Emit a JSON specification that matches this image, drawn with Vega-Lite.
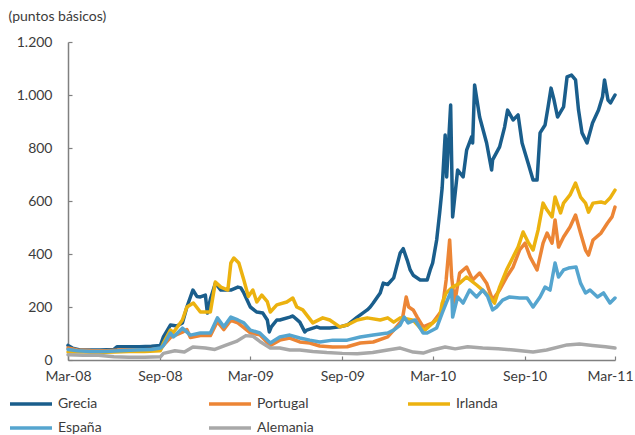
{
"$schema": "https://vega.github.io/schema/vega-lite/v6.json",
"width": 547, "height": 318,
"autosize": {"type": "none"},
"padding": {"left": 68, "top": 42, "right": 20, "bottom": 75},
"background": "white",
"config": {"view": {"stroke": null}, "font": "Lato"},
"datasets": {
"s": [
{"d":"2008-03-01","s":"Grecia","v":55},{"d":"2008-03-10","s":"Grecia","v":45},{"d":"2008-03-25","s":"Grecia","v":38},{"d":"2008-04-15","s":"Grecia","v":38},{"d":"2008-05-04","s":"Grecia","v":38},{"d":"2008-06-01","s":"Grecia","v":40},{"d":"2008-06-07","s":"Grecia","v":50},{"d":"2008-07-01","s":"Grecia","v":50},{"d":"2008-07-22","s":"Grecia","v":50},{"d":"2008-08-15","s":"Grecia","v":52},{"d":"2008-09-02","s":"Grecia","v":55},{"d":"2008-09-08","s":"Grecia","v":87},{"d":"2008-09-22","s":"Grecia","v":132},{"d":"2008-10-05","s":"Grecia","v":128},{"d":"2008-10-16","s":"Grecia","v":140},{"d":"2008-10-25","s":"Grecia","v":200},{"d":"2008-11-06","s":"Grecia","v":264},{"d":"2008-11-14","s":"Grecia","v":240},{"d":"2008-11-21","s":"Grecia","v":238},{"d":"2008-12-01","s":"Grecia","v":245},{"d":"2008-12-05","s":"Grecia","v":177},{"d":"2008-12-11","s":"Grecia","v":230},{"d":"2008-12-21","s":"Grecia","v":290},{"d":"2009-01-01","s":"Grecia","v":264},{"d":"2009-01-21","s":"Grecia","v":264},{"d":"2009-02-04","s":"Grecia","v":275},{"d":"2009-02-10","s":"Grecia","v":272},{"d":"2009-02-16","s":"Grecia","v":253},{"d":"2009-03-01","s":"Grecia","v":200},{"d":"2009-03-14","s":"Grecia","v":181},{"d":"2009-03-26","s":"Grecia","v":177},{"d":"2009-04-04","s":"Grecia","v":151},{"d":"2009-04-08","s":"Grecia","v":106},{"d":"2009-04-12","s":"Grecia","v":125},{"d":"2009-04-23","s":"Grecia","v":151},{"d":"2009-04-29","s":"Grecia","v":151},{"d":"2009-05-19","s":"Grecia","v":162},{"d":"2009-05-25","s":"Grecia","v":166},{"d":"2009-06-08","s":"Grecia","v":143},{"d":"2009-06-18","s":"Grecia","v":106},{"d":"2009-06-22","s":"Grecia","v":113},{"d":"2009-07-12","s":"Grecia","v":125},{"d":"2009-07-18","s":"Grecia","v":121},{"d":"2009-08-07","s":"Grecia","v":121},{"d":"2009-08-27","s":"Grecia","v":125},{"d":"2009-09-11","s":"Grecia","v":132},{"d":"2009-10-01","s":"Grecia","v":162},{"d":"2009-10-21","s":"Grecia","v":189},{"d":"2009-10-27","s":"Grecia","v":200},{"d":"2009-11-02","s":"Grecia","v":215},{"d":"2009-11-16","s":"Grecia","v":253},{"d":"2009-11-22","s":"Grecia","v":290},{"d":"2009-12-01","s":"Grecia","v":285},{"d":"2009-12-13","s":"Grecia","v":310},{"d":"2009-12-26","s":"Grecia","v":404},{"d":"2010-01-01","s":"Grecia","v":420},{"d":"2010-01-09","s":"Grecia","v":377},{"d":"2010-01-15","s":"Grecia","v":340},{"d":"2010-01-21","s":"Grecia","v":320},{"d":"2010-02-04","s":"Grecia","v":302},{"d":"2010-02-18","s":"Grecia","v":302},{"d":"2010-02-24","s":"Grecia","v":340},{"d":"2010-03-01","s":"Grecia","v":366},{"d":"2010-03-09","s":"Grecia","v":453},{"d":"2010-03-15","s":"Grecia","v":555},{"d":"2010-03-20","s":"Grecia","v":650},{"d":"2010-03-26","s":"Grecia","v":849},{"d":"2010-03-29","s":"Grecia","v":691},{"d":"2010-04-06","s":"Grecia","v":962},{"d":"2010-04-10","s":"Grecia","v":540},{"d":"2010-04-20","s":"Grecia","v":717},{"d":"2010-05-01","s":"Grecia","v":691},{"d":"2010-05-08","s":"Grecia","v":792},{"d":"2010-05-18","s":"Grecia","v":842},{"d":"2010-05-20","s":"Grecia","v":819},{"d":"2010-05-24","s":"Grecia","v":1038},{"d":"2010-06-03","s":"Grecia","v":917},{"d":"2010-06-17","s":"Grecia","v":819},{"d":"2010-06-27","s":"Grecia","v":717},{"d":"2010-06-29","s":"Grecia","v":755},{"d":"2010-07-13","s":"Grecia","v":804},{"d":"2010-07-23","s":"Grecia","v":879},{"d":"2010-07-29","s":"Grecia","v":943},{"d":"2010-08-09","s":"Grecia","v":906},{"d":"2010-08-19","s":"Grecia","v":925},{"d":"2010-08-27","s":"Grecia","v":819},{"d":"2010-09-08","s":"Grecia","v":743},{"d":"2010-09-18","s":"Grecia","v":679},{"d":"2010-09-26","s":"Grecia","v":679},{"d":"2010-10-02","s":"Grecia","v":857},{"d":"2010-10-12","s":"Grecia","v":887},{"d":"2010-10-18","s":"Grecia","v":955},{"d":"2010-10-24","s":"Grecia","v":1026},{"d":"2010-10-30","s":"Grecia","v":981},{"d":"2010-11-06","s":"Grecia","v":917},{"d":"2010-11-18","s":"Grecia","v":955},{"d":"2010-11-25","s":"Grecia","v":1068},{"d":"2010-12-04","s":"Grecia","v":1075},{"d":"2010-12-12","s":"Grecia","v":1057},{"d":"2010-12-18","s":"Grecia","v":943},{"d":"2010-12-25","s":"Grecia","v":857},{"d":"2011-01-04","s":"Grecia","v":819},{"d":"2011-01-15","s":"Grecia","v":894},{"d":"2011-01-27","s":"Grecia","v":943},{"d":"2011-02-04","s":"Grecia","v":993},{"d":"2011-02-08","s":"Grecia","v":1057},{"d":"2011-02-15","s":"Grecia","v":981},{"d":"2011-02-20","s":"Grecia","v":970},{"d":"2011-03-01","s":"Grecia","v":1000},

{"d":"2008-03-01","s":"Portugal","v":45},{"d":"2008-03-20","s":"Portugal","v":38},{"d":"2008-04-15","s":"Portugal","v":36},{"d":"2008-05-15","s":"Portugal","v":35},{"d":"2008-06-15","s":"Portugal","v":38},{"d":"2008-07-15","s":"Portugal","v":38},{"d":"2008-08-15","s":"Portugal","v":40},{"d":"2008-09-02","s":"Portugal","v":40},{"d":"2008-09-08","s":"Portugal","v":55},{"d":"2008-09-22","s":"Portugal","v":85},{"d":"2008-10-16","s":"Portugal","v":105},{"d":"2008-10-25","s":"Portugal","v":115},{"d":"2008-11-01","s":"Portugal","v":85},{"d":"2008-11-21","s":"Portugal","v":92},{"d":"2008-12-11","s":"Portugal","v":92},{"d":"2008-12-25","s":"Portugal","v":145},{"d":"2009-01-07","s":"Portugal","v":115},{"d":"2009-01-21","s":"Portugal","v":150},{"d":"2009-02-04","s":"Portugal","v":140},{"d":"2009-02-16","s":"Portugal","v":122},{"d":"2009-03-01","s":"Portugal","v":102},{"d":"2009-03-20","s":"Portugal","v":95},{"d":"2009-04-10","s":"Portugal","v":55},{"d":"2009-04-29","s":"Portugal","v":75},{"d":"2009-05-19","s":"Portugal","v":83},{"d":"2009-06-08","s":"Portugal","v":68},{"d":"2009-06-28","s":"Portugal","v":64},{"d":"2009-07-18","s":"Portugal","v":53},{"d":"2009-08-13","s":"Portugal","v":49},{"d":"2009-09-11","s":"Portugal","v":50},{"d":"2009-10-07","s":"Portugal","v":64},{"d":"2009-11-02","s":"Portugal","v":68},{"d":"2009-12-01","s":"Portugal","v":87},{"d":"2009-12-13","s":"Portugal","v":113},{"d":"2009-12-30","s":"Portugal","v":151},{"d":"2010-01-07","s":"Portugal","v":238},{"d":"2010-01-12","s":"Portugal","v":200},{"d":"2010-01-21","s":"Portugal","v":189},{"d":"2010-01-29","s":"Portugal","v":162},{"d":"2010-02-10","s":"Portugal","v":125},{"d":"2010-03-01","s":"Portugal","v":140},{"d":"2010-03-20","s":"Portugal","v":189},{"d":"2010-03-28","s":"Portugal","v":302},{"d":"2010-04-04","s":"Portugal","v":453},{"d":"2010-04-08","s":"Portugal","v":313},{"d":"2010-04-14","s":"Portugal","v":215},{"d":"2010-04-24","s":"Portugal","v":328},{"d":"2010-05-08","s":"Portugal","v":351},{"d":"2010-05-20","s":"Portugal","v":302},{"d":"2010-06-03","s":"Portugal","v":328},{"d":"2010-06-17","s":"Portugal","v":290},{"d":"2010-06-29","s":"Portugal","v":226},{"d":"2010-07-13","s":"Portugal","v":264},{"d":"2010-07-27","s":"Portugal","v":313},{"d":"2010-08-09","s":"Portugal","v":351},{"d":"2010-08-22","s":"Portugal","v":415},{"d":"2010-09-02","s":"Portugal","v":441},{"d":"2010-09-12","s":"Portugal","v":389},{"d":"2010-09-26","s":"Portugal","v":340},{"d":"2010-10-08","s":"Portugal","v":441},{"d":"2010-10-16","s":"Portugal","v":479},{"d":"2010-10-26","s":"Portugal","v":441},{"d":"2010-11-01","s":"Portugal","v":528},{"d":"2010-11-08","s":"Portugal","v":426},{"d":"2010-11-18","s":"Portugal","v":464},{"d":"2010-12-01","s":"Portugal","v":502},{"d":"2010-12-12","s":"Portugal","v":547},{"d":"2010-12-22","s":"Portugal","v":479},{"d":"2011-01-01","s":"Portugal","v":415},{"d":"2011-01-07","s":"Portugal","v":396},{"d":"2011-01-16","s":"Portugal","v":453},{"d":"2011-02-01","s":"Portugal","v":479},{"d":"2011-02-14","s":"Portugal","v":517},{"d":"2011-02-23","s":"Portugal","v":540},{"d":"2011-03-01","s":"Portugal","v":577},

{"d":"2008-03-01","s":"Irlanda","v":30},{"d":"2008-04-01","s":"Irlanda","v":30},{"d":"2008-05-01","s":"Irlanda","v":28},{"d":"2008-06-01","s":"Irlanda","v":30},{"d":"2008-07-01","s":"Irlanda","v":32},{"d":"2008-08-01","s":"Irlanda","v":32},{"d":"2008-09-02","s":"Irlanda","v":35},{"d":"2008-09-08","s":"Irlanda","v":64},{"d":"2008-09-22","s":"Irlanda","v":113},{"d":"2008-09-28","s":"Irlanda","v":104},{"d":"2008-10-16","s":"Irlanda","v":151},{"d":"2008-10-25","s":"Irlanda","v":200},{"d":"2008-11-07","s":"Irlanda","v":215},{"d":"2008-11-21","s":"Irlanda","v":181},{"d":"2008-12-11","s":"Irlanda","v":181},{"d":"2008-12-21","s":"Irlanda","v":294},{"d":"2009-01-01","s":"Irlanda","v":275},{"d":"2009-01-15","s":"Irlanda","v":264},{"d":"2009-01-21","s":"Irlanda","v":366},{"d":"2009-01-27","s":"Irlanda","v":385},{"d":"2009-02-06","s":"Irlanda","v":366},{"d":"2009-02-16","s":"Irlanda","v":302},{"d":"2009-02-25","s":"Irlanda","v":240},{"d":"2009-03-06","s":"Irlanda","v":264},{"d":"2009-03-14","s":"Irlanda","v":219},{"d":"2009-03-24","s":"Irlanda","v":245},{"d":"2009-04-04","s":"Irlanda","v":220},{"d":"2009-04-10","s":"Irlanda","v":181},{"d":"2009-04-23","s":"Irlanda","v":208},{"d":"2009-05-13","s":"Irlanda","v":219},{"d":"2009-05-25","s":"Irlanda","v":234},{"d":"2009-06-02","s":"Irlanda","v":200},{"d":"2009-06-14","s":"Irlanda","v":189},{"d":"2009-07-04","s":"Irlanda","v":140},{"d":"2009-07-24","s":"Irlanda","v":159},{"d":"2009-08-07","s":"Irlanda","v":151},{"d":"2009-08-27","s":"Irlanda","v":125},{"d":"2009-09-11","s":"Irlanda","v":132},{"d":"2009-10-01","s":"Irlanda","v":151},{"d":"2009-10-21","s":"Irlanda","v":159},{"d":"2009-11-16","s":"Irlanda","v":151},{"d":"2009-12-01","s":"Irlanda","v":159},{"d":"2009-12-13","s":"Irlanda","v":143},{"d":"2009-12-26","s":"Irlanda","v":159},{"d":"2010-01-09","s":"Irlanda","v":155},{"d":"2010-01-21","s":"Irlanda","v":150},{"d":"2010-02-04","s":"Irlanda","v":121},{"d":"2010-02-14","s":"Irlanda","v":113},{"d":"2010-03-01","s":"Irlanda","v":140},{"d":"2010-03-15","s":"Irlanda","v":162},{"d":"2010-03-20","s":"Irlanda","v":215},{"d":"2010-03-28","s":"Irlanda","v":253},{"d":"2010-04-10","s":"Irlanda","v":275},{"d":"2010-04-24","s":"Irlanda","v":290},{"d":"2010-05-08","s":"Irlanda","v":313},{"d":"2010-05-28","s":"Irlanda","v":283},{"d":"2010-06-09","s":"Irlanda","v":264},{"d":"2010-06-23","s":"Irlanda","v":238},{"d":"2010-07-03","s":"Irlanda","v":215},{"d":"2010-07-13","s":"Irlanda","v":275},{"d":"2010-07-27","s":"Irlanda","v":340},{"d":"2010-08-09","s":"Irlanda","v":389},{"d":"2010-08-19","s":"Irlanda","v":426},{"d":"2010-08-29","s":"Irlanda","v":483},{"d":"2010-09-08","s":"Irlanda","v":445},{"d":"2010-09-18","s":"Irlanda","v":415},{"d":"2010-09-28","s":"Irlanda","v":490},{"d":"2010-10-08","s":"Irlanda","v":592},{"d":"2010-10-16","s":"Irlanda","v":566},{"d":"2010-10-26","s":"Irlanda","v":540},{"d":"2010-11-01","s":"Irlanda","v":615},{"d":"2010-11-12","s":"Irlanda","v":555},{"d":"2010-11-18","s":"Irlanda","v":592},{"d":"2010-12-01","s":"Irlanda","v":623},{"d":"2010-12-12","s":"Irlanda","v":668},{"d":"2010-12-22","s":"Irlanda","v":615},{"d":"2011-01-01","s":"Irlanda","v":592},{"d":"2011-01-07","s":"Irlanda","v":558},{"d":"2011-01-16","s":"Irlanda","v":592},{"d":"2011-02-01","s":"Irlanda","v":596},{"d":"2011-02-09","s":"Irlanda","v":592},{"d":"2011-02-19","s":"Irlanda","v":611},{"d":"2011-03-01","s":"Irlanda","v":641},

{"d":"2008-03-01","s":"España","v":40},{"d":"2008-03-20","s":"España","v":35},{"d":"2008-04-15","s":"España","v":32},{"d":"2008-05-15","s":"España","v":32},{"d":"2008-06-15","s":"España","v":35},{"d":"2008-07-15","s":"España","v":38},{"d":"2008-08-15","s":"España","v":40},{"d":"2008-09-02","s":"España","v":45},{"d":"2008-09-08","s":"España","v":55},{"d":"2008-09-22","s":"España","v":102},{"d":"2008-09-28","s":"España","v":87},{"d":"2008-10-16","s":"España","v":120},{"d":"2008-11-01","s":"España","v":94},{"d":"2008-11-21","s":"España","v":102},{"d":"2008-12-11","s":"España","v":102},{"d":"2008-12-25","s":"España","v":159},{"d":"2009-01-07","s":"España","v":125},{"d":"2009-01-21","s":"España","v":162},{"d":"2009-02-04","s":"España","v":151},{"d":"2009-02-16","s":"España","v":140},{"d":"2009-03-01","s":"España","v":113},{"d":"2009-03-20","s":"España","v":102},{"d":"2009-04-10","s":"España","v":64},{"d":"2009-04-29","s":"España","v":87},{"d":"2009-05-19","s":"España","v":94},{"d":"2009-06-08","s":"España","v":83},{"d":"2009-06-28","s":"España","v":75},{"d":"2009-07-18","s":"España","v":68},{"d":"2009-08-13","s":"España","v":75},{"d":"2009-09-11","s":"España","v":75},{"d":"2009-10-07","s":"España","v":87},{"d":"2009-11-02","s":"España","v":94},{"d":"2009-12-01","s":"España","v":102},{"d":"2009-12-13","s":"España","v":113},{"d":"2009-12-26","s":"España","v":132},{"d":"2010-01-03","s":"España","v":162},{"d":"2010-01-11","s":"España","v":140},{"d":"2010-01-25","s":"España","v":151},{"d":"2010-02-10","s":"España","v":102},{"d":"2010-02-18","s":"España","v":102},{"d":"2010-03-09","s":"España","v":121},{"d":"2010-03-20","s":"España","v":177},{"d":"2010-03-28","s":"España","v":215},{"d":"2010-04-08","s":"España","v":264},{"d":"2010-04-10","s":"España","v":162},{"d":"2010-04-20","s":"España","v":238},{"d":"2010-05-01","s":"España","v":215},{"d":"2010-05-14","s":"España","v":264},{"d":"2010-05-28","s":"España","v":238},{"d":"2010-06-09","s":"España","v":264},{"d":"2010-06-19","s":"España","v":240},{"d":"2010-06-29","s":"España","v":189},{"d":"2010-07-07","s":"España","v":200},{"d":"2010-07-19","s":"España","v":226},{"d":"2010-08-02","s":"España","v":238},{"d":"2010-08-22","s":"España","v":234},{"d":"2010-09-06","s":"España","v":234},{"d":"2010-09-18","s":"España","v":200},{"d":"2010-10-02","s":"España","v":238},{"d":"2010-10-12","s":"España","v":275},{"d":"2010-10-22","s":"España","v":264},{"d":"2010-11-01","s":"España","v":366},{"d":"2010-11-08","s":"España","v":313},{"d":"2010-11-18","s":"España","v":340},{"d":"2010-11-28","s":"España","v":347},{"d":"2010-12-13","s":"España","v":351},{"d":"2010-12-22","s":"España","v":290},{"d":"2011-01-01","s":"España","v":253},{"d":"2011-01-10","s":"España","v":264},{"d":"2011-01-25","s":"España","v":238},{"d":"2011-02-06","s":"España","v":253},{"d":"2011-02-19","s":"España","v":215},{"d":"2011-03-01","s":"España","v":234},

{"d":"2008-03-01","s":"Alemania","v":20},{"d":"2008-04-01","s":"Alemania","v":18},{"d":"2008-05-01","s":"Alemania","v":18},{"d":"2008-06-01","s":"Alemania","v":12},{"d":"2008-07-01","s":"Alemania","v":10},{"d":"2008-08-01","s":"Alemania","v":10},{"d":"2008-09-02","s":"Alemania","v":12},{"d":"2008-09-08","s":"Alemania","v":25},{"d":"2008-10-01","s":"Alemania","v":35},{"d":"2008-10-20","s":"Alemania","v":30},{"d":"2008-11-06","s":"Alemania","v":49},{"d":"2008-12-01","s":"Alemania","v":45},{"d":"2008-12-20","s":"Alemania","v":40},{"d":"2009-01-10","s":"Alemania","v":55},{"d":"2009-02-01","s":"Alemania","v":70},{"d":"2009-02-20","s":"Alemania","v":92},{"d":"2009-03-06","s":"Alemania","v":90},{"d":"2009-03-20","s":"Alemania","v":70},{"d":"2009-04-10","s":"Alemania","v":45},{"d":"2009-04-29","s":"Alemania","v":45},{"d":"2009-05-19","s":"Alemania","v":38},{"d":"2009-06-08","s":"Alemania","v":38},{"d":"2009-07-04","s":"Alemania","v":32},{"d":"2009-08-01","s":"Alemania","v":28},{"d":"2009-09-01","s":"Alemania","v":25},{"d":"2009-10-01","s":"Alemania","v":24},{"d":"2009-11-01","s":"Alemania","v":28},{"d":"2009-12-01","s":"Alemania","v":38},{"d":"2009-12-26","s":"Alemania","v":45},{"d":"2010-01-21","s":"Alemania","v":30},{"d":"2010-02-10","s":"Alemania","v":26},{"d":"2010-03-01","s":"Alemania","v":38},{"d":"2010-03-26","s":"Alemania","v":49},{"d":"2010-04-15","s":"Alemania","v":42},{"d":"2010-05-10","s":"Alemania","v":50},{"d":"2010-06-09","s":"Alemania","v":45},{"d":"2010-07-10","s":"Alemania","v":42},{"d":"2010-08-10","s":"Alemania","v":38},{"d":"2010-09-18","s":"Alemania","v":30},{"d":"2010-10-15","s":"Alemania","v":38},{"d":"2010-11-25","s":"Alemania","v":57},{"d":"2010-12-20","s":"Alemania","v":60},{"d":"2011-01-15","s":"Alemania","v":55},{"d":"2011-02-10","s":"Alemania","v":50},{"d":"2011-03-01","s":"Alemania","v":45}
]
},
"data": {"name": "s"},
"mark": {"type": "line", "strokeWidth": 3.5, "strokeJoin": "round", "strokeCap": "round"},
"encoding": {
"x": {"field": "d", "type": "temporal",
 "scale": {"domain": [{"year": 2008, "month": 3, "date": 1, "utc": true}, {"year": 2011, "month": 3, "date": 1, "utc": true}]},
 "axis": {"title": null, "grid": false,
  "values": [{"year": 2008, "month": 3, "date": 1, "utc": true}, {"year": 2008, "month": 9, "date": 1, "utc": true}, {"year": 2009, "month": 3, "date": 1, "utc": true}, {"year": 2009, "month": 9, "date": 1, "utc": true}, {"year": 2010, "month": 3, "date": 1, "utc": true}, {"year": 2010, "month": 9, "date": 1, "utc": true}, {"year": 2011, "month": 3, "date": 1, "utc": true}],
  "labelExpr": "utcFormat(datum.value, '%b-%y')",
  "domainColor": "#808080", "domainWidth": 1.5, "tickColor": "#808080", "tickWidth": 1.2, "tickSize": -4,
  "labelPadding": 13, "labelFontSize": 14, "labelColor": "#3c3c3c", "labelFlush": false, "labelOverlap": false,
  "labelOffset": {"condition": {"test": "datum.value > 1290000000000", "value": -5}, "value": 0}}},
"y": {"field": "v", "type": "quantitative",
 "scale": {"domain": [0, 1200], "nice": false, "zero": true},
 "axis": {"title": "(puntos básicos)", "titleAngle": 0, "titleAlign": "left", "titleBaseline": "middle", "titleX": -60, "titleY": -26, "titleFontSize": 14, "titleFontWeight": "normal", "titleColor": "#3c3c3c",
  "grid": false, "values": [0, 200, 400, 600, 800, 1000, 1200],
  "labelExpr": "replace(format(datum.value, ','), ',', '.')",
  "domainColor": "#808080", "domainWidth": 1.5, "tickColor": "#808080", "tickWidth": 1.2, "tickSize": -4,
  "labelPadding": 20, "labelFontSize": 14, "labelColor": "#3c3c3c"}},
"color": {"field": "s", "type": "nominal",
 "scale": {"domain": ["Grecia", "Portugal", "Irlanda", "España", "Alemania"], "range": ["#1a5e8c", "#ec8535", "#ecb20f", "#55a5cf", "#a8a8a8"]},
 "legend": {"orient": "none", "legendX": -44, "legendY": 355, "direction": "horizontal", "columns": 3, "title": null,
  "symbolType": "M-4.2,0H4.2", "symbolSize": 100, "symbolStrokeWidth": 3.5, "symbolFillColor": "transparent", "labelFontSize": 14, "labelColor": "#3c3c3c", "labelOffset": 20,
  "gridAlign": "all", "columnPadding": 87, "rowPadding": 10, "padding": 0, "offset": 0}}
}
}
